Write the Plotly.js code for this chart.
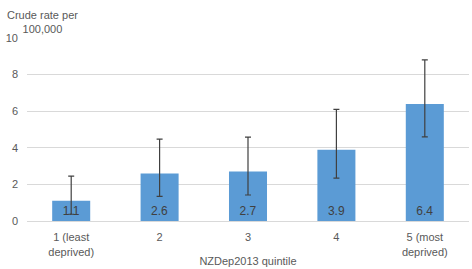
<!DOCTYPE html>
<html><head><meta charset="utf-8">
<script src="https://cdn.plot.ly/plotly-3.0.1.min.js"></script>
<style>html,body{margin:0;padding:0;background:#fff}</style>
</head><body><div id="chart" style="width:472px;height:269px"></div>
<script>
const categories = ["1 (least<br>deprived)", "2", "3", "4", "5 (most<br>deprived)"];
const rates = [1.1, 2.6, 2.7, 3.9, 6.4];
const upperCI = [2.45, 4.47, 4.58, 6.1, 8.8];
const lowerCI = [0.37, 1.35, 1.42, 2.34, 4.6];
const labels = rates.map(v => v.toFixed(1));

const trace = {
  type: 'bar', x: categories, y: rates,
  marker: {color: '#5B9BD5'},
  width: 0.43,
  text: labels, textposition: 'inside', insidetextanchor: 'start',
  textfont: {color: '#404040', size: 12, family: 'Liberation Sans, Arial, sans-serif'},
  error_y: {type: 'data', symmetric: false,
    array: upperCI.map((u, i) => u - rates[i]),
    arrayminus: rates.map((v, i) => v - lowerCI[i]),
    color: '#404040', thickness: 1.2, width: 3},
  hoverinfo: 'none'
};
const layout = {
  width: 472, height: 269,
  margin: {l: 27, r: 3, t: 38, b: 48},
  paper_bgcolor: '#fff', plot_bgcolor: '#fff',
  showlegend: false,
  font: {family: 'Liberation Sans, Arial, sans-serif', size: 11, color: '#595959'},
  xaxis: {type: 'category', showgrid: false, showline: true, linecolor: '#D9D9D9', linewidth: 1,
    ticks: '', ticklabelstandoff: 6, tickfont: {size: 11, color: '#595959'},
    title: {text: 'NZDep2013 quintile', font: {size: 11, color: '#595959'}, standoff: 0}},
  yaxis: {range: [0, 10], dtick: 2, showgrid: true, gridcolor: '#D9D9D9', zeroline: false,
    showline: false, ticks: '', ticklabelstandoff: 8, tickfont: {size: 11, color: '#595959'}},
  annotations: [{text: 'Crude rate per<br>100,000', xref: 'paper', yref: 'paper',
    x: 0.034, y: 1.0, xanchor: 'center', yanchor: 'bottom', showarrow: false, align: 'center',
    font: {size: 11, color: '#595959'}, yshift: 1}]
};
Plotly.newPlot('chart', [trace], layout, {staticPlot: true, displayModeBar: false});
</script></body></html>
